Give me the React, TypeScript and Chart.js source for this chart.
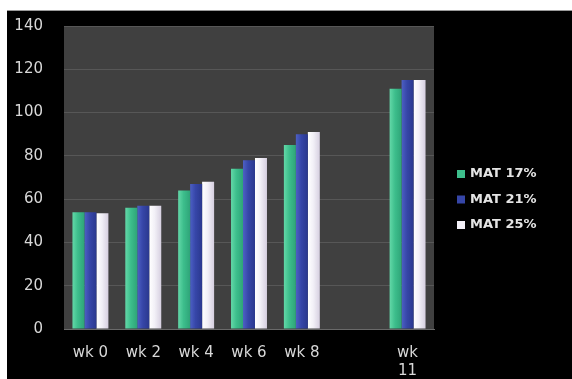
import React, { useEffect, useRef } from "react";
import { Chart, registerables } from "chart.js";

Chart.register(...registerables);

const categories: (string | string[])[] = ["wk 0", "wk 2", "wk 4", "wk 6", "wk 8", "", ["wk", "11"]];
const seriesNames = ["MAT 17%", "MAT 21%", "MAT 25%"];
const mat17 = [54, 56, 64, 74, 85, null, 111];
const mat21 = [54, 57, 67, 78, 90, null, 115];
const mat25 = [53.5, 57, 68, 79, 91, null, 115];
const yTicks = [0, 20, 40, 60, 80, 100, 120, 140];

const seriesColors = [
  { base: "#3dbe8c", light: "#63d8a8", dark: "#2ea478" },
  { base: "#3646a8", light: "#4d60c4", dark: "#2a388e" },
  { base: "#f2f0f7", light: "#ffffff", dark: "#d6cfe0" },
];

const CAT_PCT = 0.68;

function barFill(idx: number) {
  const col = seriesColors[idx];
  return (c: any) => {
    const chart = c.chart;
    const xs = chart.scales && chart.scales.x;
    if (!xs || c.type !== "data" || !isFinite(xs.width)) return col.base;
    const center = xs.getPixelForValue(c.dataIndex);
    const catW = xs.width / categories.length;
    const groupW = catW * CAT_PCT;
    const bw = groupW / 3;
    const left = center - groupW / 2 + idx * bw;
    if (!isFinite(left)) return col.base;
    const g = chart.ctx.createLinearGradient(left, 0, left + bw, 0);
    g.addColorStop(0, col.light);
    g.addColorStop(0.45, col.base);
    g.addColorStop(1, col.dark);
    return g;
  };
}

const plotBg = {
  id: "plotBg",
  beforeDraw(chart: any) {
    const { ctx, chartArea } = chart;
    ctx.save();
    ctx.fillStyle = "#404040";
    ctx.fillRect(chartArea.left, chartArea.top, chartArea.right - chartArea.left, chartArea.bottom - chartArea.top);
    ctx.restore();
  },
};

const sideLegend = {
  id: "sideLegend",
  afterDraw(chart: any) {
    const { ctx } = chart;
    ctx.save();
    ctx.font = "bold 13px 'DejaVu Sans'";
    ctx.textBaseline = "middle";
    ctx.textAlign = "left";
    chart.data.datasets.forEach((ds: any, i: number) => {
      const y = 163 + i * 25.5;
      ctx.fillStyle = seriesColors[i].base;
      ctx.fillRect(450, y - 4, 8, 8);
      ctx.fillStyle = "#e4e4e4";
      ctx.fillText(ds.label, 463, y);
    });
    ctx.restore();
  },
};

export default function App() {
  const ref = useRef<HTMLCanvasElement>(null);
  useEffect(() => {
    if (!ref.current) return;
    const chart = new Chart(ref.current, {
      type: "bar",
      data: {
        labels: categories as any,
        datasets: [mat17, mat21, mat25].map((d, i) => ({
          label: seriesNames[i],
          data: d as any,
          backgroundColor: barFill(i) as any,
          borderWidth: 0,
          categoryPercentage: CAT_PCT,
          barPercentage: 1,
        })),
      },
      options: {
        animation: false,
        responsive: false,
        maintainAspectRatio: false,
        layout: { autoPadding: false, padding: { top: 15, right: 138, left: 0, bottom: 0 } } as any,
        plugins: { legend: { display: false }, tooltip: { enabled: false }, title: { display: false } },
        scales: {
          x: {
            grid: { display: false, drawTicks: false },
            border: { display: true, color: "#6a6a6a" },
            ticks: {
              color: "#d8d8d8",
              font: { family: "'DejaVu Sans'", size: 15 },
              padding: 15,
              maxRotation: 0,
              autoSkip: false,
            },
            afterFit(axis: any) {
              axis.height = 50;
            },
          },
          y: {
            min: 0,
            max: 140,
            afterBuildTicks(axis: any) {
              axis.ticks = yTicks.map((v) => ({ value: v }));
            },
            grid: { color: "#575757", drawTicks: true, tickLength: 21, tickColor: "rgba(0,0,0,0)", lineWidth: 1 } as any,
            border: { display: false },
            ticks: {
              color: "#d8d8d8",
              font: { family: "'DejaVu Sans'", size: 15 },
              padding: 0,
            },
            afterFit(axis: any) {
              axis.width = 57;
            },
          },
        },
      },
      plugins: [plotBg, sideLegend],
    });
    return () => chart.destroy();
  }, []);

  return (
    <div style={{ position: "fixed", left: 0, top: 0, width: 572, height: 379, background: "#ffffff", overflow: "hidden" }}>
      <div style={{ position: "absolute", left: 7, top: 10, width: 565, height: 369, background: "#000000", borderTop: "1px solid #9a9a9a", boxSizing: "border-box" }}>
        <canvas ref={ref} width={565} height={368} style={{ display: "block", width: 565, height: 368 }} />
      </div>
    </div>
  );
}
